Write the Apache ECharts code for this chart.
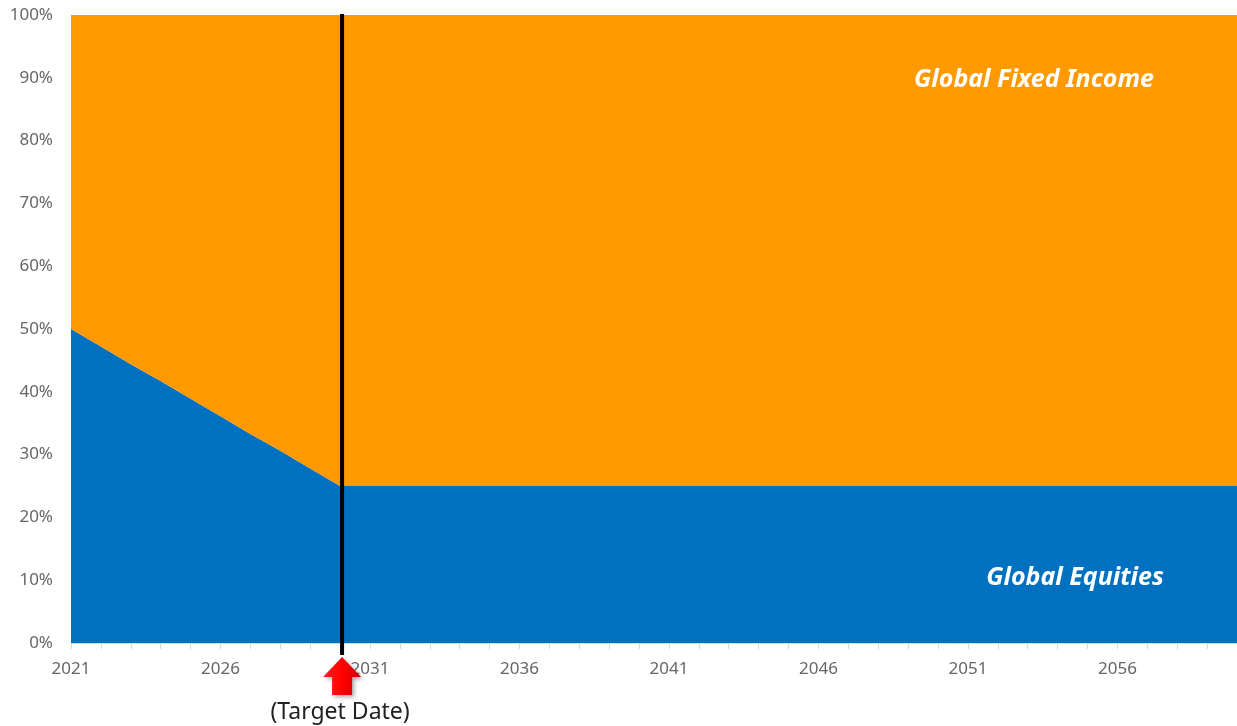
<!DOCTYPE html>
<html>
<head>
<meta charset="utf-8">
<script src="https://cdn.jsdelivr.net/npm/echarts@6/dist/echarts.min.js"></script>
<style>
html,body{margin:0;padding:0;background:#fff;}
#c{width:1237px;height:726px;}
</style>
</head>
<body>
<div id="c"></div>
<script>
const years = ['2021','2022','2023','2024','2025','2026','2027','2028','2029','2030',
  '2031','2032','2033','2034','2035','2036','2037','2038','2039','2040',
  '2041','2042','2043','2044','2045','2046','2047','2048','2049','2050',
  '2051','2052','2053','2054','2055','2056','2057','2058','2059','2060'];
const equities = [50, 47.2, 44.4, 41.7, 38.9, 36.1, 33.3, 30.6, 27.8, 25,
  25, 25, 25, 25, 25, 25, 25, 25, 25, 25,
  25, 25, 25, 25, 25, 25, 25, 25, 25, 25,
  25, 25, 25, 25, 25, 25, 25, 25, 25, 25];
const fixedIncome = [50, 52.8, 55.6, 58.3, 61.1, 63.9, 66.7, 69.4, 72.2, 75,
  75, 75, 75, 75, 75, 75, 75, 75, 75, 75,
  75, 75, 75, 75, 75, 75, 75, 75, 75, 75,
  75, 75, 75, 75, 75, 75, 75, 75, 75, 75];
const yTicks = [0, 10, 20, 30, 40, 50, 60, 70, 80, 90, 100];
const targetYear = '2030';
const seriesNames = ['Global Equities', 'Global Fixed Income'];
const labelAnchors = [['2054', 10.4, 1075], ['2053', 89.6, 1034]];

const chart = echarts.init(document.getElementById('c'));
const font = '"Noto Sans", "Open Sans", sans-serif';
chart.setOption({
  animation: false,
  grid: {left: 71, right: 0, top: 15, bottom: 83},
  xAxis: {
    type: 'category', data: years, boundaryGap: false,
    axisLine: {show: true, lineStyle: {color: '#d9d9d9', width: 1}},
    axisTick: {show: true, interval: 0, length: 6, lineStyle: {color: '#d9d9d9'}},
    axisLabel: {interval: 4, color: '#666', fontSize: 17, fontFamily: font, margin: 18},
    splitLine: {show: false}
  },
  yAxis: {
    type: 'value', min: 0, max: 100, interval: 10,
    axisLine: {show: false}, axisTick: {show: false},
    axisLabel: {formatter: v => v + '%', color: '#666', fontSize: 17, fontFamily: font, margin: 18},
    splitLine: {show: false}
  },
  series: [
    {name: seriesNames[0], type: 'line', stack: 'a', data: equities, symbol: 'none',
      lineStyle: {width: 0}, areaStyle: {color: '#0070C0', opacity: 1}, itemStyle: {color: '#0070C0'}},
    {name: seriesNames[1], type: 'line', stack: 'a', data: fixedIncome, symbol: 'none',
      lineStyle: {width: 0}, areaStyle: {color: '#FF9900', opacity: 1}, itemStyle: {color: '#FF9900'}}
  ]
});

const tx = chart.convertToPixel({xAxisIndex: 0}, targetYear) + 2;
const yTop = chart.convertToPixel({yAxisIndex: 0}, 100);
const yBot = chart.convertToPixel({yAxisIndex: 0}, 0);
const lbl = labelAnchors.map(a => chart.convertToPixel({yAxisIndex: 0}, a[1]));

chart.setOption({
  graphic: [
    {type: 'line', shape: {x1: tx, y1: yTop - 1, x2: tx, y2: yBot + 12}, style: {stroke: '#000', lineWidth: 4}, z: 100},
    {type: 'polygon', shape: {points: [[tx, yBot + 14], [tx + 19, yBot + 34], [tx + 10, yBot + 34], [tx + 10, yBot + 52], [tx - 10, yBot + 52], [tx - 10, yBot + 34], [tx - 19, yBot + 34]]},
      style: {fill: new echarts.graphic.LinearGradient(0, 0, 1, 0, [{offset: 0, color: '#ff2020'}, {offset: 0.5, color: '#ff0000'}, {offset: 1, color: '#d00000'}]), shadowBlur: 4, shadowColor: 'rgba(0,0,0,0.35)', shadowOffsetX: 2, shadowOffsetY: 2}, z: 100},
    {type: 'text', x: tx - 2, y: yBot + 69, style: {text: '(Target Date)', fill: '#222', font: '23px ' + font, textAlign: 'center', textVerticalAlign: 'middle'}, z: 100},
    {type: 'text', x: labelAnchors[0][2], y: lbl[0], style: {text: seriesNames[0], fill: '#fff', font: 'italic bold 25px ' + font, textAlign: 'center', textVerticalAlign: 'middle'}, z: 100},
    {type: 'text', x: labelAnchors[1][2], y: lbl[1], style: {text: seriesNames[1], fill: '#fff', font: 'italic bold 25px ' + font, textAlign: 'center', textVerticalAlign: 'middle'}, z: 100}
  ]
});
</script>
</body>
</html>
